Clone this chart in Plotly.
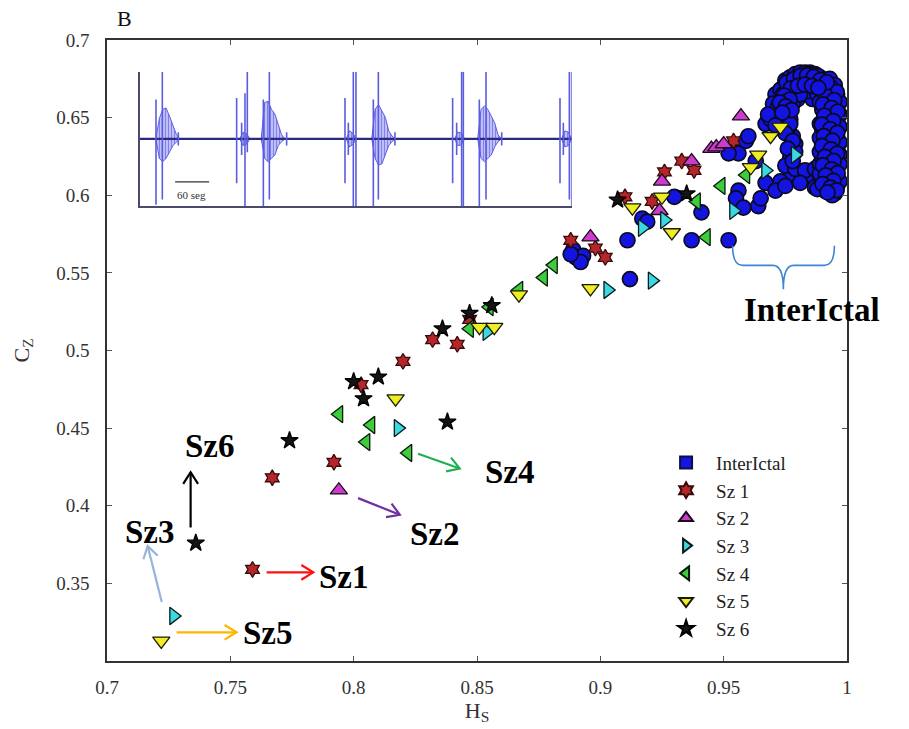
import math
import plotly.graph_objects as go

# ---------------- data: complexity C_Z vs entropy H_S ----------------
inter_hs = [0.889, 0.890, 0.893, 0.892, 0.888, 0.912, 0.911, 0.917, 0.919, 0.930,
            0.937, 0.941, 0.952, 0.954, 0.956, 0.952, 0.959, 0.960, 0.963, 0.967,
            0.969, 0.971, 0.973, 0.984, 0.978, 0.979, 0.979, 0.977, 0.973, 0.967,
            0.971, 0.975, 0.985, 0.989, 0.992, 0.956, 0.955, 0.958, 0.964, 0.965,
            0.991, 0.989, 0.994,
            0.975, 0.977, 0.979, 0.981, 0.983, 0.985, 0.987, 0.989, 0.991, 0.993,
            0.995, 0.979, 0.985, 0.991, 0.995, 0.973, 0.976, 0.970, 0.975, 0.980,
            0.986,
            0.995, 0.994, 0.995, 0.994, 0.995, 0.994, 0.995, 0.993, 0.992, 0.991,
            0.992, 0.991, 0.992, 0.991, 0.993, 0.993, 0.996, 0.996, 0.996, 0.990,
            0.977, 0.976, 0.977, 0.975, 0.979, 0.983, 0.987, 0.989,
            0.987, 0.981, 0.995,
            0.990, 0.993, 0.996, 0.990, 0.994, 0.990, 0.996, 0.993, 0.990, 0.995,
            0.992, 0.996, 0.990, 0.994, 0.992, 0.996, 0.993, 0.996,
            0.978, 0.982, 0.986, 0.990, 0.984, 0.988, 0.974, 0.978, 0.972, 0.976,
            0.991, 0.994, 0.997, 0.989, 0.997, 0.989, 0.997, 0.989, 0.997, 0.992,
            0.989, 0.997, 0.991, 0.997, 0.989, 0.994, 0.997, 0.991, 0.994, 0.988,
            0.980, 0.984, 0.988, 0.977, 0.981, 0.983, 0.987, 0.974, 0.977, 0.981,
            0.972, 0.974, 0.977, 0.975, 0.978, 0.968, 0.971, 0.976, 0.978,
            0.9905, 0.9935, 0.9958, 0.9912, 0.9948, 0.9902, 0.9938, 0.9962, 0.9908, 0.9944,
            0.9898, 0.9932, 0.9961, 0.9906, 0.9941, 0.9899, 0.9935, 0.9960, 0.9910, 0.9946,
            0.9902, 0.9938, 0.9962, 0.9914, 0.9945, 0.9901, 0.9933, 0.9958, 0.9921,
            0.9755, 0.9785, 0.9812, 0.9838, 0.9865, 0.9892, 0.9918, 0.9772, 0.9801, 0.9829,
            0.9858, 0.9884, 0.9745, 0.9768, 0.9728, 0.9752, 0.9775, 0.9738]
inter_cz = [0.565, 0.560, 0.561, 0.557, 0.562, 0.546, 0.571, 0.585, 0.583, 0.599,
            0.571, 0.589, 0.571, 0.628, 0.627, 0.627, 0.635, 0.638, 0.622, 0.646,
            0.649, 0.665, 0.654, 0.666, 0.638, 0.633, 0.628, 0.612, 0.609, 0.608,
            0.603, 0.606, 0.613, 0.609, 0.606, 0.603, 0.598, 0.592, 0.593, 0.598,
            0.657, 0.666, 0.655,
            0.674, 0.676, 0.678, 0.679, 0.679, 0.679, 0.678, 0.676, 0.674, 0.675,
            0.671, 0.669, 0.671, 0.667, 0.663, 0.668, 0.663, 0.659, 0.655, 0.662,
            0.662,
            0.659, 0.650, 0.643, 0.635, 0.627, 0.619, 0.611, 0.605, 0.659, 0.649,
            0.640, 0.630, 0.620, 0.612, 0.646, 0.624, 0.665, 0.637, 0.617, 0.611,
            0.649, 0.643, 0.624, 0.619, 0.617, 0.616, 0.617, 0.620,
            0.605, 0.608, 0.601,
            0.655, 0.652, 0.648, 0.642, 0.638, 0.633, 0.630, 0.628, 0.624, 0.622,
            0.615, 0.613, 0.607, 0.608, 0.603, 0.606, 0.662, 0.657,
            0.673, 0.676, 0.676, 0.672, 0.667, 0.665, 0.661, 0.659, 0.652, 0.669,
            0.670, 0.668, 0.660, 0.660, 0.652, 0.646, 0.644, 0.637, 0.634, 0.633,
            0.628, 0.626, 0.618, 0.620, 0.614, 0.612, 0.609, 0.603, 0.600, 0.604,
            0.676, 0.678, 0.677, 0.672, 0.671, 0.674, 0.672, 0.665, 0.666, 0.665,
            0.657, 0.650, 0.646, 0.640, 0.635, 0.652, 0.645, 0.630, 0.622,
            0.6715, 0.6695, 0.6665, 0.6645, 0.6612, 0.6585, 0.6562, 0.6538, 0.6512, 0.6478,
            0.6455, 0.6425, 0.6402, 0.6381, 0.6352, 0.6318, 0.6296, 0.6268, 0.6247, 0.6221,
            0.6192, 0.6166, 0.6142, 0.6128, 0.6093, 0.6072, 0.6049, 0.6032, 0.6018,
            0.6725, 0.6748, 0.6768, 0.6772, 0.6762, 0.6742, 0.6728, 0.6688, 0.6705, 0.6712,
            0.6705, 0.6692, 0.6642, 0.6615, 0.6598, 0.6572, 0.6548, 0.6532]

sz1_hs = [0.759, 0.767, 0.792, 0.803, 0.820, 0.832, 0.842, 0.847, 0.888, 0.898,
          0.902, 0.910, 0.921, 0.926, 0.933, 0.938, 0.954]
sz1_cz = [0.359, 0.418, 0.428, 0.478, 0.493, 0.507, 0.504, 0.520, 0.571, 0.566,
          0.560, 0.599, 0.596, 0.615, 0.622, 0.616, 0.635]

sz2_hs = [0.794, 0.896, 0.924, 0.925, 0.937, 0.945, 0.947, 0.950, 0.957]
sz2_cz = [0.410, 0.573, 0.590, 0.609, 0.622, 0.630, 0.631, 0.633, 0.651]

sz3_hs = [0.727, 0.818, 0.854, 0.903, 0.921, 0.917, 0.926, 0.954, 0.967, 0.979]
sz3_cz = [0.329, 0.450, 0.512, 0.539, 0.545, 0.579, 0.584, 0.590, 0.616, 0.626]

sz4_hs = [0.794, 0.807, 0.805, 0.822, 0.847, 0.855, 0.867, 0.877, 0.881, 0.939,
          0.943, 0.949, 0.959]
sz4_cz = [0.459, 0.452, 0.441, 0.434, 0.514, 0.528, 0.539, 0.547, 0.555, 0.596,
          0.573, 0.606, 0.613]

sz5_hs = [0.722, 0.817, 0.851, 0.857, 0.867, 0.896, 0.913, 0.925, 0.929, 0.961,
          0.964, 0.969, 0.973]
sz5_cz = [0.313, 0.469, 0.515, 0.515, 0.536, 0.540, 0.592, 0.599, 0.576, 0.618,
          0.626, 0.638, 0.644]

sz6_hs = [0.736, 0.774, 0.800, 0.810, 0.804, 0.838, 0.836, 0.847, 0.856, 0.907, 0.935]
sz6_cz = [0.376, 0.442, 0.480, 0.483, 0.469, 0.454, 0.514, 0.524, 0.529, 0.597, 0.601]

x_ticks = [0.7, 0.75, 0.8, 0.85, 0.9, 0.95, 1.0]
x_ticktext = ["0.7", "0.75", "0.8", "0.85", "0.9", "0.95", "1"]
y_ticks = [0.35, 0.4, 0.45, 0.5, 0.55, 0.6, 0.65, 0.7]
y_ticktext = ["0.35", "0.4", "0.45", "0.5", "0.55", "0.6", "0.65", "0.7"]

# ---------------- data: inset EEG trace (time in s, normalised amplitude) ----------------
spike_t = [28.2, 39.4, 67.6, 170.6, 179.4, 185.3, 189.4, 217.7, 228.3, 258.8,
           361.8, 367.7, 376.5, 381.2, 411.8, 420.7, 450.0, 551.8, 558.9, 567.7,
           570.7, 598.9, 610.7, 638.4, 741.3, 747.2, 757.8, 761.9]
spike_hi = [0.585, 1.0, 0.1, 0.61, 0.24, 0.68, 1.0, 0.585, 1.0, 0.1,
            0.61, 0.24, 1.0, 1.0, 0.585, 1.0, 0.1, 0.61, 0.24, 1.0,
            1.0, 0.585, 1.0, 0.1, 0.61, 0.24, 1.0, 1.0]
spike_lo = [-0.98, -0.9, -0.1, -0.66, -0.24, -1.0, -0.2, -1.0, -0.9, -0.1,
            -0.66, -0.24, -1.0, -1.0, -1.0, -0.9, -0.1, -0.66, -0.24, -1.0,
            -1.0, -1.0, -0.9, -0.1, -0.66, -0.24, -0.9, -1.0]

burst_start = [28.0, 214.0, 409.0, 596.0, 176.0, 364.0, 555.0, 744.0]
burst_step = 6.0
burst_upper = [[0.0, 0.30, 0.44, 0.46, 0.34, 0.20, 0.07, 0.0],
               [0.0, 0.54, 0.56, 0.44, 0.37, 0.20, 0.06, 0.0],
               [0.0, 0.44, 0.51, 0.41, 0.32, 0.12, 0.04, 0.0],
               [0.0, 0.44, 0.49, 0.44, 0.34, 0.24, 0.06, 0.0],
               [0.0, 0.10, 0.08, 0.0],
               [0.0, 0.12, 0.08, 0.0],
               [0.0, 0.10, 0.09, 0.0],
               [0.0, 0.12, 0.10, 0.0]]
burst_lower = [[0.0, -0.29, -0.34, -0.29, -0.20, -0.10, -0.05, 0.0],
               [0.0, -0.29, -0.34, -0.29, -0.24, -0.10, -0.04, 0.0],
               [0.0, -0.29, -0.39, -0.37, -0.24, -0.10, -0.04, 0.0],
               [0.0, -0.29, -0.34, -0.29, -0.24, -0.12, -0.04, 0.0],
               [0.0, -0.10, -0.08, 0.0],
               [0.0, -0.12, -0.08, 0.0],
               [0.0, -0.10, -0.09, 0.0],
               [0.0, -0.12, -0.10, 0.0]]
inset_t_max = 762.0

SERIF = "Liberation Serif, Times New Roman, DejaVu Serif, serif"

fig = go.Figure()

# legend entry for the interictal set (square glyph in the key)
fig.add_trace(go.Scatter(
    x=[None], y=[None], mode="markers", name="InterIctal",
    marker=dict(symbol="square", size=15, color="#1414e6",
                line=dict(color="#101040", width=1))))

fig.add_trace(go.Scatter(
    x=inter_hs, y=inter_cz, mode="markers", showlegend=False, name="InterIctal",
    marker=dict(symbol="circle", size=15, color="#1414e0",
                line=dict(color="#0a0a1e", width=1.7))))

series = [
    ("Sz 1", sz1_hs, sz1_cz, "hexagram", 12, "#b4262a", "#3a0a0a"),
    ("Sz 2", sz2_hs, sz2_cz, "triangle-up", 15, "#cc3ccc", "#1a0a1a"),
    ("Sz 3", sz3_hs, sz3_cz, "triangle-right", 15, "#3ad8e0", "#0a1a1a"),
    ("Sz 4", sz4_hs, sz4_cz, "triangle-left", 15, "#3ccc3c", "#0a1a0a"),
    ("Sz 5", sz5_hs, sz5_cz, "triangle-down", 15, "#eeee22", "#1a1a0a"),
    ("Sz 6", sz6_hs, sz6_cz, "star", 13, "#141414", "#000000"),
]
for name, xs, ys, sym, size, fill, edge in series:
    fig.add_trace(go.Scatter(
        x=xs, y=ys, mode="markers", name=name,
        marker=dict(symbol=sym, size=size, color=fill,
                    line=dict(color=edge, width=1.3))))

# ---------------- inset trace ----------------
for t0, up, lo in zip(burst_start, burst_upper, burst_lower):
    ts = [t0 + i * burst_step for i in range(len(up))]
    fig.add_trace(go.Scatter(
        x=ts + ts[::-1], y=up + lo[::-1], xaxis="x2", yaxis="y2",
        mode="lines", fill="toself", fillcolor="rgba(130,130,245,0.55)",
        fillpattern=dict(shape="|", fgcolor="#3a3ad8", bgcolor="rgba(150,150,250,0.5)",
                         size=3, solidity=0.45),
        line=dict(color="rgba(80,80,225,0.9)", width=1), showlegend=False,
        hoverinfo="skip"))

fig.add_trace(go.Scatter(
    x=[0, inset_t_max], y=[0, 0], xaxis="x2", yaxis="y2", mode="lines",
    line=dict(color="#2a2a80", width=2.2), showlegend=False, hoverinfo="skip"))

sx, sy = [], []
for t, hi, lo in zip(spike_t, spike_hi, spike_lo):
    sx += [t, t, None]
    sy += [lo, hi, None]
fig.add_trace(go.Scatter(
    x=sx, y=sy, xaxis="x2", yaxis="y2", mode="lines", cliponaxis=False,
    line=dict(color="#5c5ce0", width=1.6), showlegend=False, hoverinfo="skip"))

# ---------------- annotation arrows (open chevron heads) ----------------
PX_X = 740 / 0.3
PX_Y = 628 / 0.4
shapes = []


def add_arrow(x0, y0, x1, y1, color, head=14, spread=32, width=2.2):
    ang = math.atan2((y1 - y0) * PX_Y, (x1 - x0) * PX_X)
    pts = []
    for s in (spread, -spread):
        a = ang + math.pi + math.radians(s)
        pts.append((x1 + head * math.cos(a) / PX_X, y1 + head * math.sin(a) / PX_Y))
    shapes.append(dict(type="line", xref="x", yref="y", x0=x0, y0=y0, x1=x1, y1=y1,
                       line=dict(color=color, width=width)))
    path = f"M {pts[0][0]},{pts[0][1]} L {x1},{y1} L {pts[1][0]},{pts[1][1]}"
    shapes.append(dict(type="path", xref="x", yref="y", path=path,
                       line=dict(color=color, width=width)))


add_arrow(0.7339, 0.386, 0.7339, 0.4216, "#000000")
add_arrow(0.7222, 0.338, 0.7165, 0.374, "#96b4dc")
add_arrow(0.7282, 0.3185, 0.7525, 0.3185, "#ffb400")
add_arrow(0.7647, 0.3571, 0.7836, 0.3571, "#ff1010")
add_arrow(0.8018, 0.4049, 0.8187, 0.3942, "#7030a0")
add_arrow(0.8261, 0.4335, 0.8430, 0.4240, "#20b050")

# brace over the interictal cluster
shapes.append(dict(
    type="path", xref="x", yref="y",
    path=("M 0.9536,0.5675 Q 0.9536,0.5548 0.9577,0.5548 L 0.9700,0.5548 "
          "Q 0.9742,0.5548 0.9742,0.5395 Q 0.9742,0.5548 0.9783,0.5548 "
          "L 0.9908,0.5548 Q 0.9949,0.5548 0.9949,0.5675"),
    line=dict(color="#3a86d6", width=1.6)))

# inset scale bar
shapes.append(dict(type="line", xref="x2", yref="y2", x0=62, y0=-0.64, x1=122, y1=-0.64,
                   line=dict(color="#333333", width=1.2)))

big = dict(family=SERIF, size=33, color="#000000")
annotations = [
    dict(text="<b>Sz6</b>", x=0.7417, y=0.4388),
    dict(text="<b>Sz3</b>", x=0.7174, y=0.3828),
    dict(text="<b>Sz5</b>", x=0.7652, y=0.3178),
    dict(text="<b>Sz1</b>", x=0.7960, y=0.3541),
    dict(text="<b>Sz2</b>", x=0.8328, y=0.3815),
    dict(text="<b>Sz4</b>", x=0.8632, y=0.4216),
    dict(text="<b>InterIctal</b>", x=0.9860, y=0.5261),
]
for a in annotations:
    a.update(xref="x", yref="y", showarrow=False, font=big,
             xanchor="center", yanchor="middle")
annotations.append(dict(text="60 seg", x=91, y=-0.83, xref="x2", yref="y2",
                        showarrow=False, font=dict(family=SERIF, size=11, color="#333333")))
annotations.append(dict(text="B", x=0.0243, y=1.035, xref="paper", yref="paper",
                        showarrow=False, xanchor="center", yanchor="middle",
                        font=dict(family=SERIF, size=22, color="#111111")))

axis_common = dict(ticks="inside", ticklen=5, tickwidth=1, tickcolor="#555555",
                   showline=True, linecolor="#333333", linewidth=1.5, mirror="ticks",
                   showgrid=False, zeroline=False,
                   tickfont=dict(family=SERIF, size=19, color="#333333"))

fig.update_layout(
    width=909, height=729,
    margin=dict(l=107, r=62, t=40, b=61),
    paper_bgcolor="white", plot_bgcolor="white",
    xaxis=dict(range=[0.7, 1.0], tickvals=x_ticks, ticktext=x_ticktext,
               ticklabelstandoff=8,
               title=dict(text="H<sub>S</sub>", standoff=4,
                          font=dict(family=SERIF, size=22, color="#333333")),
               **axis_common),
    yaxis=dict(range=[0.3, 0.7], tickvals=y_ticks, ticktext=y_ticktext,
               ticklabelstandoff=12,
               title=dict(text="C<sub>Z</sub>", standoff=21,
                          font=dict(family=SERIF, size=22, color="#333333")),
               **axis_common),
    xaxis2=dict(domain=[0.0446, 0.628], anchor="y2", range=[0, inset_t_max],
                showline=True, linecolor="#4a4a6a", linewidth=1.5, showticklabels=False,
                ticks="", showgrid=False, zeroline=False),
    yaxis2=dict(domain=[0.7325, 0.949], anchor="x2", range=[-1, 1],
                showline=True, linecolor="#4a4a6a", linewidth=1.5, showticklabels=False,
                ticks="", showgrid=False, zeroline=False),
    legend=dict(x=0.742, y=0.35, xanchor="left", yanchor="top",
                font=dict(family=SERIF, size=19, color="#222222"),
                bgcolor="rgba(0,0,0,0)", itemsizing="constant", itemwidth=50,
                tracegroupgap=0),
    shapes=shapes,
    annotations=annotations,
    showlegend=True,
)

fig.write_html("out.html")
